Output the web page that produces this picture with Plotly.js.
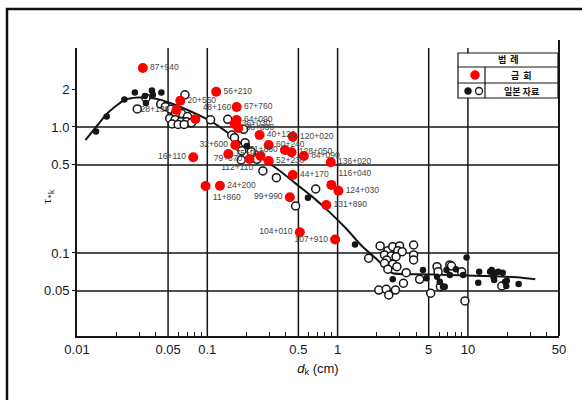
<!DOCTYPE html>
<html><head><meta charset="utf-8">
<script src="https://cdn.plot.ly/plotly-3.0.1.min.js"></script>
<style>html,body{margin:0;padding:0;background:#fff}#chart{width:582px;height:400px}</style>
</head><body><div id="chart"></div>
<script>
// ---- data ----
const redLabels = ['87+940','56+210','20+550','28+130','48+160','67+760','64+090','36+030','36+080','40+120','120+020','32+600','60+240','16+110','75+910','79+870','112+110','52+230','71+860','128+050','84+090','136+020','44+170','11+860','24+200','116+040','124+030','99+990','131+890','104+010','107+910'];
const redX = [0.032,0.117,0.062,0.058,0.081,0.168,0.168,0.162,0.173,0.252,0.453,0.164,0.296,0.078,0.145,0.211,0.256,0.296,0.394,0.443,0.551,0.886,0.453,0.097,0.125,0.895,1.014,0.43,0.819,0.513,0.957];
const redY = [2.94,1.906,1.617,1.364,1.157,1.441,1.137,1.056,0.982,0.864,0.838,0.72,0.72,0.575,0.611,0.557,0.589,0.537,0.657,0.63,0.589,0.525,0.416,0.34,0.342,0.347,0.312,0.277,0.24,0.146,0.128];

const jpFilledX = [0.014,0.0169,0.0231,0.0278,0.0332,0.0338,0.0376,0.0382,0.0444,0.201,0.592,1.36,2.65,4.52,4.8,5.79,6.08,6.64,6.85,7.26,8.08,9.2,9.77,12.0,12.2,14.8,15.2,15.7,15.9,16.2,17.1,18.5,19.3,19.7,19.9,24.5,6.44];
const jpFilledY = [0.921,1.21,1.65,1.88,1.76,1.55,1.95,1.8,1.88,0.707,0.275,0.117,0.0618,0.0733,0.063,0.0649,0.0592,0.054,0.0733,0.0669,0.0743,0.0669,0.092,0.0581,0.0711,0.0711,0.0733,0.0649,0.061,0.0698,0.0711,0.0698,0.0592,0.0547,0.0603,0.0568,0.054];

const jpOpenX = [0.029,0.0338,0.0439,0.0477,0.0525,0.0673,0.0633,0.0705,0.0571,0.0515,0.0566,0.0627,0.0692,0.0756,0.0537,0.0597,0.0664,0.106,0.1435,0.19,0.154,0.1616,0.195,0.184,0.2175,0.182,0.24,0.267,0.339,0.679,0.476,1.73,2.12,2.43,2.65,2.99,2.9,3.13,3.83,3.83,3.83,2.29,2.58,2.81,2.38,2.29,2.65,2.85,2.43,3.36,2.07,2.36,2.47,2.78,3.2,4.26,5.18,5.79,5.9,6.15,7.26,8.94,9.48,18.2,7.48];
const jpOpenY = [1.39,1.7,1.52,1.45,1.38,1.8,1.28,1.21,1.29,1.17,1.14,1.1,1.1,1.08,1.056,1.047,1.047,1.14,1.15,0.959,0.864,0.822,0.75,0.648,0.637,0.547,0.554,0.448,0.396,0.322,0.236,0.0908,0.1137,0.1043,0.1122,0.1137,0.1043,0.1024,0.1157,0.0964,0.088,0.0964,0.0947,0.0935,0.088,0.0828,0.0813,0.0779,0.0743,0.0698,0.0508,0.0515,0.0464,0.0508,0.0575,0.0618,0.0479,0.0779,0.0711,0.054,0.0803,0.0711,0.0416,0.0547,0.0788];

const curveX = [0.0116,0.0144,0.0172,0.0231,0.0293,0.0395,0.0546,0.0756,0.108,0.145,0.195,0.262,0.353,0.475,0.638,0.859,1.157,1.555,1.95,2.36,2.65,4.02,7.26,13.1,23.8,32.9];
const curveY = [0.788,1.037,1.291,1.637,1.714,1.683,1.522,1.322,1.102,0.891,0.698,0.565,0.456,0.357,0.28,0.213,0.157,0.112,0.0912,0.0756,0.069,0.0678,0.0669,0.0657,0.0641,0.0618];

const xTickVals = [0.01,0.05,0.1,0.5,1,5,10,50];
const xTickText = ['0.01','0.05','0.1','0.5','1','5','10','50'];
const xMinorVals = [0.02,0.03,0.04,0.06,0.07,0.08,0.09,0.2,0.3,0.4,0.6,0.7,0.8,0.9,2,3,4,6,7,8,9,20,30,40];
const yTickVals = [0.05,0.1,0.5,1,2];
const yTickText = ['0.05','0.1','0.5','1.0','2'];
const xGridVals = [0.05,0.1,0.5,1,5,10];
const yGridVals = [0.05,0.1,0.5,1];

const xTitle = '<i>d</i><sub>k</sub> (cm)';
const yTitle = 'τ<sub>*k</sub>';
const legendHeader = '범  례';
const legendRed = '금  회';
const legendJp = '일본 자료';

// ---- styles ----
const redTextPos = ['middle right','middle right','middle right','middle left','top right','middle right','middle right','middle right','middle right','middle right','middle right','middle left','middle right','middle left','middle right','middle left','bottom left','middle right','middle left','middle right','middle right','middle right','middle right','bottom right','middle right','top right','middle right','middle left','middle right','middle left','middle left'];

const L = 77, R = 559, T = 48, B = 336;
const px = v => (v - L) / (R - L);
const py = v => (B - v) / (B - T);
const ink = '#151515';

const traces = [
  {x: curveX, y: curveY, mode: 'lines', line: {color: ink, width: 2, shape: 'spline', smoothing: 0.6}, hoverinfo: 'skip'},
  {x: jpOpenX, y: jpOpenY, mode: 'markers', marker: {symbol: 'circle', size: 8, color: '#fff', line: {color: ink, width: 1.5}}},
  {x: jpFilledX, y: jpFilledY, mode: 'markers', marker: {symbol: 'circle', size: 6.5, color: ink}},
  {x: redX, y: redY, text: redLabels, mode: 'markers+text', textposition: redTextPos,
   textfont: {family: 'Liberation Sans, Arial, sans-serif', size: 8.5, color: '#444'},
   marker: {size: 10, color: '#ff0000'}}
];

const shapes = [];
xGridVals.forEach(v => shapes.push({type: 'line', xref: 'x', yref: 'paper', x0: v, x1: v, y0: 0, y1: 1, line: {color: ink, width: 1.5}, layer: 'below'}));
yGridVals.forEach(v => shapes.push({type: 'line', xref: 'paper', yref: 'y', x0: 0, x1: 1, y0: v, y1: v, line: {color: ink, width: 1.5}, layer: 'below'}));
// right axis line
shapes.push({type: 'line', xref: 'paper', yref: 'paper', x0: 1, x1: 1, y0: 0, y1: py(40), line: {color: ink, width: 2}, layer: 'above'});
// outer frame
shapes.push({type: 'rect', xref: 'paper', yref: 'paper', x0: px(7), x1: px(600), y0: py(420), y1: py(9), line: {color: '#111', width: 2.5}, layer: 'above'});
// legend table
const lg = {color: ink, width: 1.2};
shapes.push({type: 'rect', xref: 'paper', yref: 'paper', x0: px(458), x1: px(558), y0: py(98), y1: py(53), fillcolor: '#ffffff', opacity: 1, line: lg, layer: 'above'});
shapes.push({type: 'line', xref: 'paper', yref: 'paper', x0: px(458), x1: px(558), y0: py(67), y1: py(67), line: lg, layer: 'above'});
shapes.push({type: 'line', xref: 'paper', yref: 'paper', x0: px(458), x1: px(558), y0: py(83), y1: py(83), line: lg, layer: 'above'});
shapes.push({type: 'line', xref: 'paper', yref: 'paper', x0: px(485), x1: px(485), y0: py(67), y1: py(98), line: lg, layer: 'above'});
shapes.push({type: 'circle', xref: 'paper', yref: 'paper', x0: px(470.5), x1: px(479.5), y0: py(79.5), y1: py(70.5), fillcolor: '#ff0000', line: {color: '#ff0000', width: 0.5}, layer: 'above'});
shapes.push({type: 'circle', xref: 'paper', yref: 'paper', x0: px(464.5), x1: px(471.5), y0: py(94.5), y1: py(87.5), fillcolor: ink, line: {color: ink, width: 0.5}, layer: 'above'});
shapes.push({type: 'circle', xref: 'paper', yref: 'paper', x0: px(475.5), x1: px(482.5), y0: py(94.5), y1: py(87.5), fillcolor: '#ffffff', line: {color: ink, width: 1.3}, layer: 'above'});

const kfont = {family: 'Noto Sans CJK KR, sans-serif', size: 9, color: '#111'};
const ann = (x, y, text, font, extra) => Object.assign({xref: 'paper', yref: 'paper', x: px(x), y: py(y), text: text, showarrow: false, xanchor: 'center', yanchor: 'middle', font: font}, extra || {});
const annotations = [
  ann(508, 60, '<b>' + legendHeader + '</b>', kfont),
  ann(521, 75, '<b>' + legendRed + '</b>', kfont),
  ann(521, 91, '<b>' + legendJp + '</b>', kfont),
  ann(47, 197, yTitle, {family: 'Liberation Serif, serif', size: 13, color: '#111'}, {textangle: -90})
];

const layout = {
  width: 582, height: 400,
  margin: {l: L, r: 582 - R, t: T, b: 400 - B},
  paper_bgcolor: '#fff', plot_bgcolor: '#fff',
  showlegend: false,
  font: {family: 'Liberation Sans, Arial, sans-serif', color: '#111'},
  xaxis: {
    type: 'log', range: [-2, Math.log10(50)],
    tickmode: 'array', tickvals: xTickVals, ticktext: xTickText,
    ticks: '', showgrid: false, zeroline: false,
    showline: true, linecolor: ink, linewidth: 2,
    tickfont: {size: 13, color: '#151515'},
    minor: {tickmode: 'array', tickvals: xMinorVals, ticks: 'inside', ticklen: 4, tickcolor: ink, tickwidth: 1, showgrid: false},
    title: {text: xTitle, font: {size: 13, color: '#111'}, standoff: 8}
  },
  yaxis: {
    type: 'log', range: [-1.659, 0.627],
    tickmode: 'array', tickvals: yTickVals, ticktext: yTickText,
    ticks: 'outside', ticklen: 3, tickcolor: ink, showgrid: false, zeroline: false,
    showline: true, linecolor: ink, linewidth: 2,
    tickfont: {size: 13, color: '#151515'}
  },
  shapes: shapes,
  annotations: annotations
};

Plotly.newPlot('chart', traces, layout, {displayModeBar: false, staticPlot: true});
</script>
</body></html>
